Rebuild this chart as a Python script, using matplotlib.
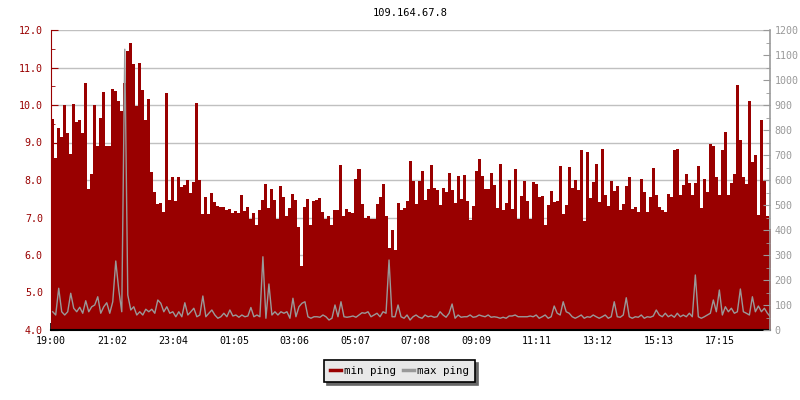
import numpy as np
import matplotlib
matplotlib.use('Agg')
import matplotlib.pyplot as plt
from matplotlib.ticker import MultipleLocator
from matplotlib.lines import Line2D

plt.rcParams['font.family'] = ['DejaVu Sans Mono', 'DejaVu Sans']

# ping samples, one every 6 minutes starting 19:00
host = '109.164.67.8'
step_min = 6
tick_pos = [0, 122, 244, 365, 486, 607, 728, 849, 971, 1092, 1213, 1335]
tick_labels = ['19:00', '21:02', '23:04', '01:05', '03:06', '05:07',
               '07:08', '09:09', '11:11', '13:12', '15:13', '17:15']

# left axis (4..12)
min_ping = [
    9.64, 8.58, 9.39, 9.16, 10.0, 9.25, 8.7, 10.04, 9.54, 9.6,
    9.25, 10.6, 7.75, 8.16, 9.99, 8.9, 9.65, 10.35, 8.9, 8.9,
    10.44, 10.37, 10.1, 9.83, 10.6, 11.45, 11.65, 11.09, 9.97, 11.12,
    10.4, 9.61, 10.17, 8.22, 7.68, 7.37, 7.39, 7.14, 10.33, 7.46,
    8.09, 7.44, 8.09, 7.82, 7.86, 8.0, 7.65, 7.95, 10.06, 8.0,
    7.1, 7.55, 7.1, 7.66, 7.41, 7.32, 7.28, 7.28, 7.19, 7.23,
    7.11, 7.17, 7.12, 7.6, 7.17, 7.28, 6.96, 7.12, 6.79, 7.21,
    7.48, 7.9, 7.26, 7.77, 7.48, 6.96, 7.83, 7.54, 7.04, 7.26,
    7.64, 7.46, 6.75, 5.71, 7.28, 7.5, 6.81, 7.43, 7.48, 7.52,
    7.14, 6.96, 7.05, 6.81, 7.19, 7.21, 8.4, 7.05, 7.23, 7.16,
    7.12, 8.03, 8.3, 7.37, 6.98, 7.04, 6.96, 6.97, 7.37, 7.55,
    7.9, 7.05, 6.2, 6.66, 6.13, 7.39, 7.21, 7.26, 7.43, 8.52,
    7.98, 7.36, 7.98, 8.25, 7.47, 7.77, 8.41, 7.78, 7.74, 7.33,
    7.78, 7.67, 8.2, 7.74, 7.38, 8.12, 7.49, 8.14, 7.45, 6.93,
    7.31, 8.25, 8.55, 8.1, 7.77, 7.77, 8.2, 7.87, 7.25, 8.42,
    7.2, 7.4, 8.01, 7.22, 8.3, 6.95, 7.58, 7.98, 7.43, 6.96,
    7.96, 7.89, 7.56, 7.58, 6.79, 7.33, 7.71, 7.41, 7.45, 8.37,
    7.09, 7.33, 8.35, 7.78, 7.99, 7.74, 8.79, 6.91, 8.76, 7.51,
    7.96, 8.43, 7.42, 8.83, 7.6, 7.3, 7.98, 7.71, 7.84, 7.2,
    7.36, 7.84, 8.09, 7.24, 7.29, 7.15, 8.04, 7.68, 7.15, 7.55,
    8.33, 7.61, 7.29, 7.2, 7.15, 7.64, 7.55, 8.79, 8.84, 7.6,
    7.87, 8.15, 7.93, 7.6, 7.91, 8.38, 7.26, 8.03, 7.69, 8.96,
    8.91, 8.09, 7.6, 8.79, 9.28, 7.6, 7.91, 8.16, 10.54, 9.07,
    8.09, 7.89, 10.1, 8.49, 8.67, 7.06, 9.6, 7.97, 7.04, 6.7,
]

# right axis (0..1200)
max_ping = [
    73, 60, 167, 73, 60, 73, 147, 87, 73, 91,
    67, 117, 73, 93, 100, 133, 67, 93, 109, 67,
    113, 276, 160, 73, 1123, 140, 80, 93, 60, 73,
    60, 83, 73, 83, 67, 120, 107, 73, 93, 67,
    73, 53, 73, 53, 109, 60, 73, 87, 53, 60,
    136, 53, 67, 80, 60, 47, 53, 67, 53, 80,
    56, 60, 51, 60, 53, 56, 90, 53, 60, 53,
    293, 47, 184, 60, 73, 60, 73, 67, 73, 47,
    127, 53, 93, 107, 113, 53, 47, 53, 53, 51,
    60, 53, 40, 47, 100, 53, 113, 53, 51, 53,
    56, 51, 60, 69, 67, 73, 53, 60, 67, 53,
    73, 67, 280, 53, 53, 100, 53, 47, 60, 40,
    53, 60, 51, 47, 60, 53, 56, 51, 53, 73,
    60, 51, 67, 104, 47, 60, 51, 53, 53, 60,
    51, 53, 60, 56, 53, 60, 51, 53, 51, 47,
    51, 47, 56, 56, 60, 53, 53, 53, 53, 56,
    53, 60, 47, 53, 60, 47, 53, 96, 67, 60,
    113, 73, 67, 53, 47, 53, 60, 47, 53, 51,
    60, 53, 47, 53, 60, 47, 53, 113, 53, 51,
    60, 129, 53, 47, 53, 51, 60, 47, 53, 51,
    56, 80, 60, 53, 67, 53, 60, 51, 67, 53,
    60, 53, 67, 53, 220, 53, 47, 53, 60, 67,
    120, 73, 160, 60, 93, 73, 87, 67, 73, 164,
    73, 67, 60, 133, 73, 96, 73, 87, 67, 53,
]

RED = '#990000'
GRAY = '#999999'
FS = 7.2

fig = plt.figure(figsize=(8, 4), dpi=100)
ax = fig.add_axes([0.064, 0.175, 0.899, 0.75])

t = np.arange(len(min_ping) + 1) * step_min
ax.fill_between(t, 4.0, min_ping + [min_ping[-1]], step='post',
                color=RED, lw=0, zorder=2)
ax.set_xlim(0, 1437)
ax.set_ylim(4, 12)
ax.yaxis.set_major_locator(MultipleLocator(1))
ax.yaxis.set_minor_locator(MultipleLocator(0.5))
ax.yaxis.set_major_formatter('{x:.1f}')
ax.grid(axis='y', color='#c0c0c0', lw=1)
ax.set_axisbelow(True)
ax.set_xticks(tick_pos)
ax.set_xticklabels(tick_labels)

ax.tick_params(axis='y', which='both', direction='in', colors=RED,
               labelsize=FS, pad=6)
ax.tick_params(axis='y', which='major', length=5)
ax.tick_params(axis='y', which='minor', length=3)
ax.tick_params(axis='x', direction='in', length=5, width=1.2,
               colors='black', labelsize=FS, pad=4)
ax.spines['top'].set_visible(False)
ax.spines['right'].set_visible(False)
ax.spines['left'].set_color(RED)
ax.spines['bottom'].set_color('black')
ax.spines['bottom'].set_linewidth(1.5)

ax2 = ax.twinx()
tm = t[:-1] + step_min / 2
ax2.plot(tm, max_ping, color=GRAY, lw=1)
ax2.set_ylim(0, 1200)
ax2.yaxis.set_major_locator(MultipleLocator(100))
ax2.yaxis.set_minor_locator(MultipleLocator(50))
ax2.tick_params(axis='y', which='both', direction='in', colors=GRAY,
                labelsize=FS, pad=3)
ax2.tick_params(axis='y', which='major', length=5)
ax2.tick_params(axis='y', which='minor', length=3)
for s in ['left', 'top', 'bottom']:
    ax2.spines[s].set_visible(False)
ax2.spines['right'].set_color(GRAY)
ax2.spines['right'].set_linewidth(1.2)

fig.text(0.5125, 0.967, host, ha='center', va='center', fontsize=FS + 0.3)

handles = [Line2D([], [], color=RED, lw=2.5), Line2D([], [], color=GRAY, lw=2.5)]
leg = fig.legend(handles, ['min ping', 'max ping'], loc='center',
                 bbox_to_anchor=(0.4994, 0.0725), ncol=2, frameon=True,
                 fancybox=False, edgecolor='black', facecolor='#e8e8e8',
                 framealpha=1, shadow={'color': '#666666', 'alpha': 1},
                 handlelength=1.0, handletextpad=0.3, columnspacing=0.6,
                 fontsize=7.8, borderpad=0.55)
leg.get_frame().set_linewidth(1.2)

fig.savefig('out.png', dpi=100)
